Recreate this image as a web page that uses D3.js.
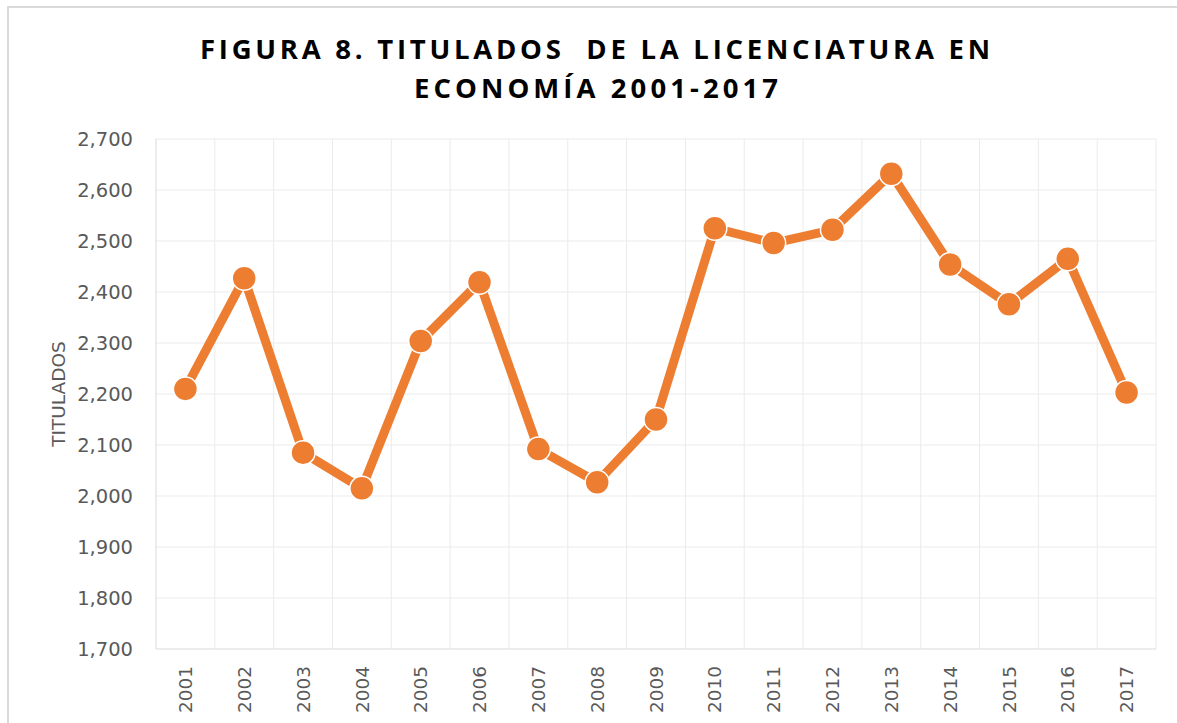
<!DOCTYPE html>
<html>
<head>
<meta charset="utf-8">
<script src="https://cdn.jsdelivr.net/npm/d3@7"></script>
<style>
  body { margin: 0; background: #fff; }
  svg { display: block; }
</style>
</head>
<body>
<svg id="canvas"></svg>
<script>
const years = ['2001', '2002', '2003', '2004', '2005', '2006', '2007', '2008', '2009',
	'2010', '2011', '2012', '2013', '2014', '2015', '2016', '2017'];
const titulados = [2210, 2427, 2085, 2015, 2304, 2419, 2092, 2027, 2150,
	2525, 2496, 2522, 2632, 2454, 2376, 2465, 2203];
const yTicks = [1700, 1800, 1900, 2000, 2100, 2200, 2300, 2400, 2500, 2600, 2700];
const titleLines = ['FIGURA 8. TITULADOS  DE LA LICENCIATURA EN', 'ECONOMÍA 2001-2017'];
const yAxisTitle = 'TITULADOS';

const width = 1177;
const height = 723;
const orange = '#ED7D31';
const grey = '#595959';

const canvas = d3.select('#canvas').attr('width', width).attr('height', height);

// chart area frame (right/bottom edges are outside the window)
canvas.append('rect')
	.attr('x', 8).attr('y', 7)
	.attr('width', 1200).attr('height', 800)
	.attr('fill', 'none')
	.attr('stroke', '#d9d9d9')
	.attr('stroke-width', 2);

const xScale = d3.scaleBand().domain(years).range([156, 1156]);
const yScale = d3.scaleLinear().domain([1700, 2700]).range([649, 139]);

// title
canvas.append('g')
	.selectAll('text')
	.data(titleLines)
	.enter()
	.append('text')
	.attr('x', (d, i) => (i === 0 ? 200 : 414))
	.attr('y', (d, i) => (i === 0 ? 59 : 98))
	.attr('textLength', (d, i) => (i === 0 ? 790 : 364))
	.attr('lengthAdjust', 'spacing')
	.style('white-space', 'pre')
	.attr('font-family', '"Open Sans", sans-serif')
	.attr('font-weight', 'bold')
	.attr('font-size', 27.5)
	.attr('fill', '#000')
	.text((d) => d);

// gridlines
canvas.append('g')
	.selectAll('line')
	.data(yTicks.slice(1))
	.enter()
	.append('line')
	.attr('x1', 156).attr('x2', 1156)
	.attr('y1', (d) => yScale(d)).attr('y2', (d) => yScale(d))
	.attr('stroke', '#ebebeb')
	.attr('stroke-width', 1);

canvas.append('g')
	.selectAll('line')
	.data(years)
	.enter()
	.append('line')
	.attr('x1', (d) => xScale(d) + xScale.bandwidth())
	.attr('x2', (d) => xScale(d) + xScale.bandwidth())
	.attr('y1', yScale(2700)).attr('y2', yScale(1700))
	.attr('stroke', '#ebebeb')
	.attr('stroke-width', 1);

// axis lines
canvas.append('line')
	.attr('x1', 156).attr('x2', 156)
	.attr('y1', yScale(2700)).attr('y2', yScale(1700))
	.attr('stroke', '#d9d9d9');
canvas.append('line')
	.attr('x1', 156).attr('x2', 1156)
	.attr('y1', yScale(1700)).attr('y2', yScale(1700))
	.attr('stroke', '#d9d9d9');

// y labels
canvas.append('g')
	.selectAll('text')
	.data(yTicks)
	.enter()
	.append('text')
	.attr('x', 133)
	.attr('y', (d) => yScale(d))
	.attr('dy', '0.36em')
	.attr('text-anchor', 'end')
	.attr('font-family', '"DejaVu Sans", sans-serif')
	.attr('font-size', 19.5)
	.attr('fill', grey)
	.text((d) => d3.format(',')(d));

// x labels
canvas.append('g')
	.selectAll('text')
	.data(years)
	.enter()
	.append('text')
	.attr('transform', (d) => `translate(${xScale(d) + xScale.bandwidth() / 2},666) rotate(-90)`)
	.attr('dy', '0.36em')
	.attr('text-anchor', 'end')
	.attr('font-family', '"DejaVu Sans", sans-serif')
	.attr('font-size', 18.5)
	.attr('fill', grey)
	.text((d) => d);

// y axis title
canvas.append('text')
	.attr('transform', 'translate(58,394) rotate(-90)')
	.attr('dy', '0.36em')
	.attr('text-anchor', 'middle')
	.attr('font-family', '"DejaVu Sans", sans-serif')
	.attr('font-size', 18.5)
	.attr('fill', grey)
	.text(yAxisTitle);

// series
const points = years.map((y, i) => ({ year: y, value: titulados[i] }));
const line = d3.line()
	.x((d) => xScale(d.year) + xScale.bandwidth() / 2)
	.y((d) => yScale(d.value));

canvas.append('path')
	.datum(points)
	.attr('d', line)
	.attr('fill', 'none')
	.attr('stroke', orange)
	.attr('stroke-width', 9)
	.attr('stroke-linejoin', 'round');

canvas.append('g')
	.selectAll('circle')
	.data(points)
	.enter()
	.append('circle')
	.attr('cx', (d) => xScale(d.year) + xScale.bandwidth() / 2)
	.attr('cy', (d) => yScale(d.value))
	.attr('r', 12)
	.attr('fill', orange)
	.attr('stroke', '#fff')
	.attr('stroke-width', 1.5);
</script>
</body>
</html>
